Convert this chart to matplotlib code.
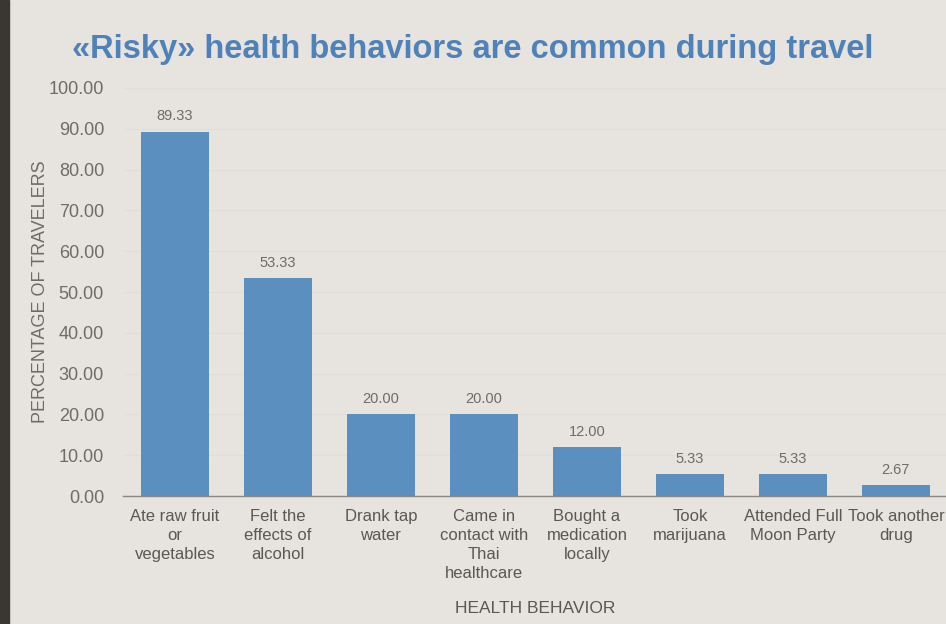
import matplotlib.pyplot as plt
from matplotlib.patches import Rectangle

# Data
behaviors = [
    "Ate raw fruit\nor\nvegetables",
    "Felt the\neffects of\nalcohol",
    "Drank tap\nwater",
    "Came in\ncontact with\nThai\nhealthcare",
    "Bought a\nmedication\nlocally",
    "Took\nmarijuana",
    "Attended Full\nMoon Party",
    "Took another\ndrug",
]
percentages = [89.33, 53.33, 20.00, 20.00, 12.00, 5.33, 5.33, 2.67]
y_ticks = [0, 10, 20, 30, 40, 50, 60, 70, 80, 90, 100]

BG = "#e7e3de"
BAR = "#5a8fbf"
GREY = "#6f6b68"

plt.rcParams["font.family"] = ["Liberation Sans", "DejaVu Sans"]

fig = plt.figure(figsize=(9.46, 6.24), dpi=100, facecolor=BG)
# slide edge on the left
fig.patches.append(Rectangle((0, 0), 0.01, 1, transform=fig.transFigure,
                             color="#3a3633", zorder=0))

ax = fig.add_axes([0.1305, 0.205, 0.871, 0.654])
ax.set_facecolor(BG)

x = range(len(behaviors))
ax.bar(x, percentages, width=0.66, color=BAR, zorder=2)
for xi, v in zip(x, percentages):
    ax.text(xi, v + 2.0, f"{v:.2f}", ha="center", va="bottom",
            fontsize=10.5, color=GREY)

ax.set_xlim(-0.5, 7.5)
ax.set_ylim(0, 100)
ax.set_yticks(y_ticks)
ax.set_yticklabels([f"{t:.2f}" for t in y_ticks], fontsize=13, color=GREY)
ax.set_xticks(list(x))
ax.set_xticklabels(behaviors, fontsize=12, color="#5a5755", linespacing=1.35)
ax.tick_params(axis="x", length=0, pad=9)
ax.tick_params(axis="y", length=0, pad=14)

ax.grid(axis="y", color="#e1ddd8", linewidth=0.8, zorder=0)
for side in ["top", "right", "left"]:
    ax.spines[side].set_visible(False)
ax.spines["bottom"].set_color("#8a8682")
ax.spines["bottom"].set_linewidth(1.0)

ax.set_ylabel("PERCENTAGE OF TRAVELERS", fontsize=13, color=GREY, labelpad=0)
ax.set_xlabel("HEALTH BEHAVIOR", fontsize=12.5, color="#5a5755", labelpad=14)

fig.text(0.5, 0.92, "\u00abRisky\u00bb health behaviors are common during travel",
         ha="center", va="center", fontsize=23.5, fontweight="bold", color="#4f82b8")

plt.savefig("out.png", dpi=100, facecolor=BG)
